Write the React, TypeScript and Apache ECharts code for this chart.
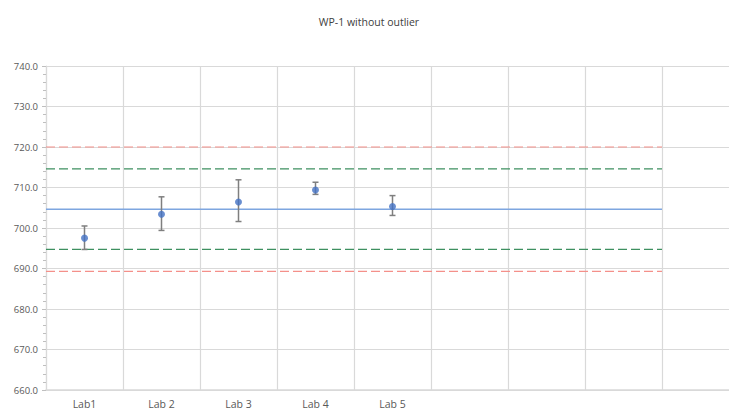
import React, { useEffect, useRef } from "react";
import * as echarts from "echarts";

const categories = ["Lab1", "Lab 2", "Lab 3", "Lab 4", "Lab 5", "", "", "", ""];
const means = [697.5, 703.4, 706.4, 709.4, 705.3];
const lows = [694.7, 699.4, 701.6, 708.3, 703.1];
const highs = [700.5, 707.7, 711.9, 711.3, 708.0];
const centerValue = 704.6;
const innerLimits = [714.6, 694.7];
const outerLimits = [720.0, 689.3];
const lineSpan = [0, 8];

export default function App() {
  const ref = useRef<HTMLDivElement>(null);
  useEffect(() => {
    if (!ref.current) return;
    const chart = echarts.init(ref.current, null, { renderer: "svg" });
    const hline = (v: number, color: string, type: any, width: number) => ({
      type: "line",
      xAxisIndex: 1,
      yAxisIndex: 0,
      data: [
        [lineSpan[0], v],
        [lineSpan[1], v],
      ],
      symbol: "none",
      silent: true,
      lineStyle: { color, type, width },
      z: 3,
    });
    chart.setOption({
      animation: false,
      title: {
        text: "WP-1 without outlier",
        left: 364,
        textAlign: "center",
        top: 11,
        textStyle: { fontFamily: "Open Sans", fontSize: 10.5, fontWeight: "normal", color: "#404040" },
      },
      grid: { left: 46, top: 66, right: 11, height: 324, containLabel: false },
      xAxis: [
        {
          type: "category",
          data: categories,
          boundaryGap: true,
          axisLine: { show: true, lineStyle: { color: "#d9d9d9", width: 1.5 } },
          axisTick: { show: false },
          splitLine: { show: true, interval: 0, lineStyle: { color: "#d9d9d9", width: 1.2 } },
          axisLabel: { interval: 0, fontFamily: "Open Sans", fontSize: 10.5, color: "#595959", margin: 8 },
        },
        { type: "value", min: 0, max: 9, show: false },
      ],
      yAxis: {
        type: "value",
        min: 660,
        max: 740,
        interval: 10,
        axisLine: { show: true, lineStyle: { color: "#d9d9d9", width: 1.2 } },
        axisTick: { show: true, length: 4, lineStyle: { color: "#bfbfbf" } },
        minorTick: { show: true, splitNumber: 5, length: 3, lineStyle: { color: "#bfbfbf" } },
        splitLine: { show: true, lineStyle: { color: "#d9d9d9", width: 1.2 } },
        axisLabel: {
          formatter: (v: number) => v.toFixed(1),
          fontFamily: "Open Sans",
          fontSize: 9.5,
          color: "#595959",
          margin: 8,
        },
      },
      series: [
        hline(outerLimits[0], "#f4908a", [9, 4], 1.2),
        hline(outerLimits[1], "#f4908a", [9, 4], 1.2),
        hline(innerLimits[0], "#3e9060", [9, 4], 1.2),
        hline(innerLimits[1], "#3e9060", [9, 4], 1.2),
        hline(centerValue, "#7ea6e0", "solid", 1.5),
        {
          type: "custom",
          xAxisIndex: 0,
          yAxisIndex: 0,
          data: lows.map((l, i) => [i, l, highs[i]]),
          encode: { x: 0, y: [1, 2] },
          z: 4,
          renderItem: (params: any, api: any) => {
            const lo = api.coord([api.value(0), api.value(1)]);
            const hi = api.coord([api.value(0), api.value(2)]);
            const cap = 3;
            const style = { stroke: "#7f7f7f", lineWidth: 1.5 };
            return {
              type: "group",
              children: [
                { type: "line", shape: { x1: lo[0], y1: lo[1], x2: hi[0], y2: hi[1] }, style },
                { type: "line", shape: { x1: lo[0] - cap, y1: lo[1], x2: lo[0] + cap, y2: lo[1] }, style },
                { type: "line", shape: { x1: hi[0] - cap, y1: hi[1], x2: hi[0] + cap, y2: hi[1] }, style },
              ],
            };
          },
        },
        {
          type: "scatter",
          xAxisIndex: 0,
          yAxisIndex: 0,
          data: means.map((m, i) => [i, m]),
          symbol: "circle",
          symbolSize: 7,
          itemStyle: { color: "#4472c4" },
          z: 5,
        },
      ],
    });
    return () => chart.dispose();
  }, []);
  return (
    <div style={{ position: "fixed", left: 0, top: 0, width: 729, height: 411, overflow: "hidden", background: "#fff" }}>
      <div ref={ref} style={{ position: "absolute", left: 0, top: 0, width: 750, height: 411 }} />
    </div>
  );
}
